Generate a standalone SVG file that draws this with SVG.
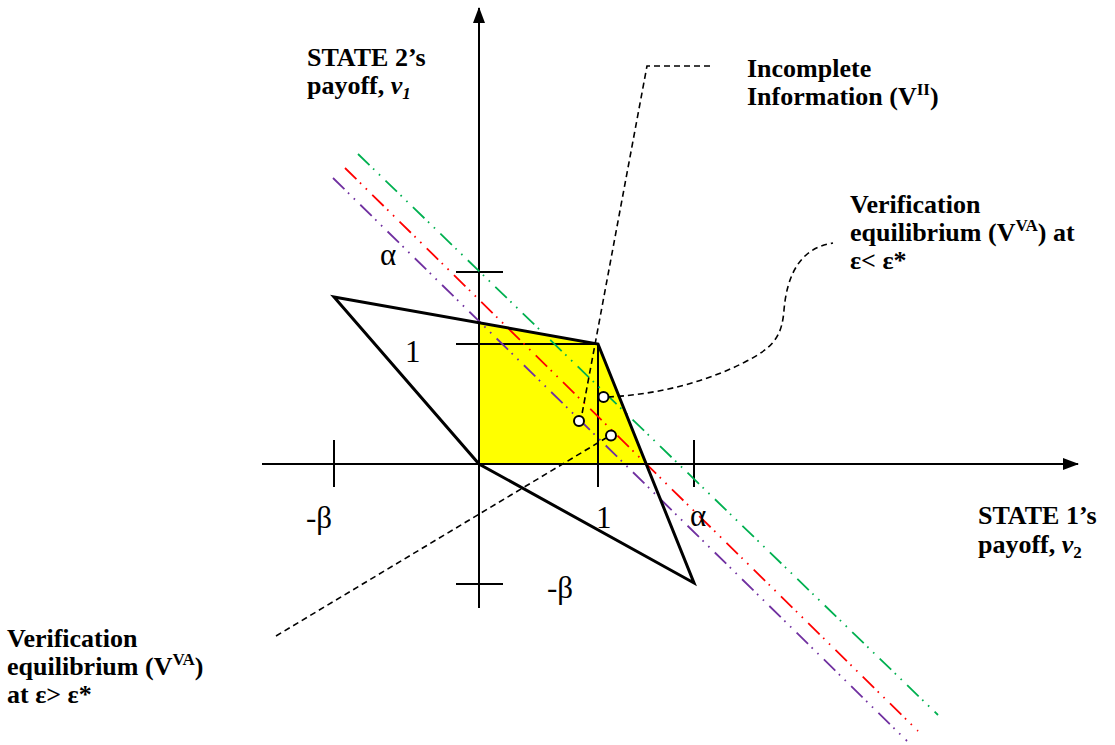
<svg xmlns="http://www.w3.org/2000/svg" width="1115" height="745" viewBox="0 0 1115 745">
<style>
.lbl{font-family:"Liberation Serif","Times New Roman",serif;font-weight:bold;font-size:26px;fill:#000}
.sym{font-family:"Liberation Serif","Times New Roman",serif;font-size:31px;fill:#000}
.sup{font-size:17px}
.ax{stroke:#000;stroke-width:2;fill:none}
.poly{stroke:#000;stroke-width:3;fill:none;stroke-linejoin:miter}
.dd{fill:none;stroke-width:1.8;stroke-dasharray:16 5 1.6 6.5 1.6 7.5}
.lead{fill:none;stroke:#000;stroke-width:1.6;stroke-dasharray:6 4}
.pt{fill:#fff;stroke:#000;stroke-width:2}
</style>
<defs>
<marker id="ah" markerWidth="16" markerHeight="12" refX="15" refY="6" orient="auto" markerUnits="userSpaceOnUse">
<path d="M0,0 L16,6 L0,12 Z" fill="#000"/>
</marker>
</defs>
<rect width="1115" height="745" fill="#fff"/>
<g id="feasible-region">
<polygon points="479,322.5 598,344 645.5,464 479,464" fill="#ffff00"/>
</g>
<g id="axes">
<line class="ax" x1="262" y1="464" x2="1078" y2="464" marker-end="url(#ah)"/>
<line class="ax" x1="479" y1="608" x2="479" y2="8" marker-end="url(#ah)"/>
<line class="ax" x1="334" y1="440" x2="334" y2="487"/>
<line class="ax" x1="694" y1="440" x2="694" y2="487"/>
<line class="ax" x1="456" y1="272" x2="503" y2="272"/>
<line class="ax" x1="456" y1="584" x2="503" y2="584"/>
<line class="ax" x1="456" y1="344" x2="598" y2="344"/>
<line class="ax" x1="598" y1="344" x2="598" y2="487"/>
</g>
<g id="iso-lines">
<line class="dd" stroke="#00b050" x1="358" y1="154" x2="938" y2="715"/>
<line class="dd" stroke="#ff0000" x1="345" y1="168" x2="918" y2="731"/>
<line class="dd" stroke="#7030a0" x1="333" y1="178" x2="907" y2="741"/>
</g>
<g id="payoff-polygon">
<polygon class="poly" points="334,297 598,344 694,583 479,464"/>
</g>
<g id="connectors">
<polyline class="lead" points="710,66 647,66 582,414"/>
<path class="lead" d="M608,397 C650,395 700,385 745,362 C775,347 782,335 784,310 C787,275 800,248 833,243"/>
<line class="lead" x1="276" y1="636" x2="606" y2="438"/>
</g>
<g id="points">
<circle class="pt" cx="603.5" cy="397" r="5"/>
<circle class="pt" cx="579" cy="421" r="5"/>
<circle class="pt" cx="611" cy="435.5" r="5"/>
</g>
<g id="axis-labels">
<text class="sym" x="380" y="265">α</text>
<text class="sym" x="405" y="362">1</text>
<text class="sym" x="306" y="528">-β</text>
<text class="sym" x="596" y="528">1</text>
<text class="sym" x="690" y="526">α</text>
<text class="sym" x="547" y="598">-β</text>
</g>
<g id="y-label">
<text class="lbl" x="307" y="66">STATE 2’s</text>
<text class="lbl" x="307" y="94">payoff, <tspan font-style="italic">v</tspan><tspan font-style="italic" class="sup" dy="5">1</tspan></text>
</g>
<g id="x-label">
<text class="lbl" x="978" y="524">STATE 1’s</text>
<text class="lbl" x="978" y="553">payoff, <tspan font-style="italic">v</tspan><tspan class="sup" dy="5">2</tspan></text>
</g>
<g id="incomplete-label">
<text class="lbl" x="747" y="77">Incomplete</text>
<text class="lbl" x="747" y="105">Information (V<tspan class="sup" dy="-10">II</tspan><tspan dy="10">)</tspan></text>
</g>
<g id="verif-low-label">
<text class="lbl" x="850" y="213">Verification</text>
<text class="lbl" x="850" y="241">equilibrium (V<tspan class="sup" dy="-10">VA</tspan><tspan dy="10">) at</tspan></text>
<text class="lbl" x="850" y="269">ε&lt; ε*</text>
</g>
<g id="verif-high-label">
<text class="lbl" x="7" y="647">Verification</text>
<text class="lbl" x="7" y="675">equilibrium (V<tspan class="sup" dy="-10">VA</tspan><tspan dy="10">)</tspan></text>
<text class="lbl" x="7" y="703">at ε&gt; ε*</text>
</g>
</svg>
